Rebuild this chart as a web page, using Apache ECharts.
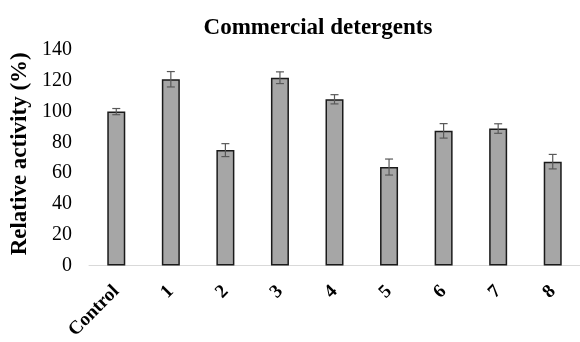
<!DOCTYPE html>
<html>
<head>
<meta charset="utf-8">
<style>
  html, body { margin: 0; padding: 0; background: #fff; }
  #chart { width: 580px; height: 342px; }
</style>
<script src="https://cdn.jsdelivr.net/npm/echarts@6/dist/echarts.min.js"></script>
</head>
<body>
<div id="chart"></div>
<script>
// Relative activity after incubation with commercial detergents
const categories = ['Control', '1', '2', '3', '4', '5', '6', '7', '8'];
const activity = [100, 121, 75, 122, 108, 64, 87.5, 89, 67.5];
const errors = [2, 5, 4.2, 3.8, 3, 5.2, 4.7, 3.1, 4.7];
const yTicks = [0, 20, 40, 60, 80, 100, 120, 140];

const serif = '"Liberation Serif", "Times New Roman", serif';
const chart = echarts.init(document.getElementById('chart'));

chart.setOption({
  animation: false,
  title: {
    text: 'Commercial detergents',
    left: 313,
    top: 12,
    textAlign: 'center',
    textStyle: { fontFamily: serif, fontWeight: 'bold', fontSize: 23, color: '#000' }
  },
  grid: { left: 89, right: 0, top: 50, bottom: 75, containLabel: false },
  xAxis: {
    type: 'category',
    data: categories,
    axisLine: { lineStyle: { color: '#d9d9d9', width: 1 } },
    axisTick: { show: false },
    axisLabel: {
      rotate: 45,
      interval: 0,
      margin: 23,
      fontFamily: serif,
      fontWeight: 'bold',
      fontSize: 19,
      color: '#000'
    }
  },
  yAxis: {
    type: 'value',
    min: yTicks[0],
    max: yTicks[yTicks.length - 1],
    interval: 20,
    name: 'Relative activity (%)',
    nameLocation: 'middle',
    nameGap: 53,
    nameTextStyle: { fontFamily: serif, fontWeight: 'bold', fontSize: 23, color: '#000', padding: [0, 0, 0, 8] },
    axisLine: { show: false },
    axisTick: { show: false },
    splitLine: { show: false },
    axisLabel: { fontFamily: serif, fontSize: 20, color: '#000', margin: 17 }
  },
  series: [
    {
      type: 'bar',
      data: activity,
      barWidth: 18,
      itemStyle: { color: '#a6a6a6', borderColor: '#1a1a1a', borderWidth: 1.5 }
    },
    {
      type: 'custom',
      data: activity.map((v, i) => [i, v - errors[i], v + errors[i]]),
      z: 10,
      renderItem: function (params, api) {
        const x = api.value(0);
        const lo = api.coord([x, api.value(1)]);
        const hi = api.coord([x, api.value(2)]);
        const cap = 4;
        const style = { stroke: '#595959', lineWidth: 1.2 };
        return {
          type: 'group',
          children: [
            { type: 'line', shape: { x1: lo[0], y1: lo[1], x2: hi[0], y2: hi[1] }, style: style },
            { type: 'line', shape: { x1: lo[0] - cap, y1: lo[1], x2: lo[0] + cap, y2: lo[1] }, style: style },
            { type: 'line', shape: { x1: hi[0] - cap, y1: hi[1], x2: hi[0] + cap, y2: hi[1] }, style: style }
          ]
        };
      }
    }
  ]
});
</script>
</body>
</html>
